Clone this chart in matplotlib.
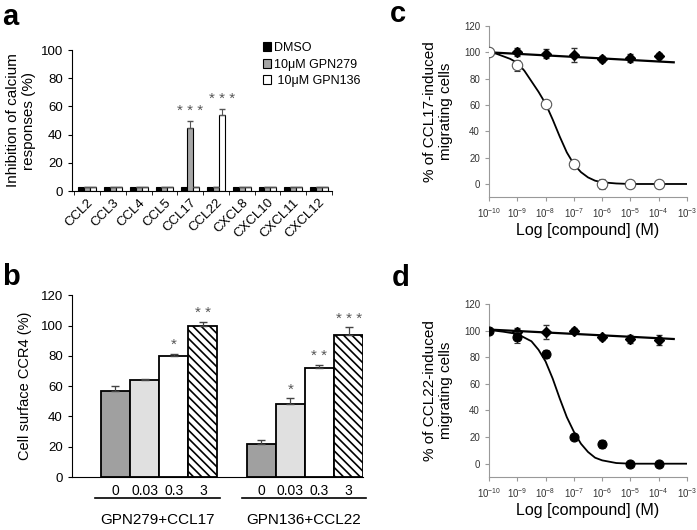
import matplotlib
matplotlib.use("Agg")
import matplotlib.pyplot as plt
from matplotlib.patches import Patch
import numpy as np

plt.rcParams['font.family'] = ['Liberation Sans', 'DejaVu Sans']
plt.rcParams['hatch.linewidth'] = 1.2

# ---- panel a data ----
chemokines = ["CCL2", "CCL3", "CCL4", "CCL5", "CCL17", "CCL22", "CXCL8", "CXCL10", "CXCL11", "CXCL12"]
a_dmso = [3, 3, 3, 3, 3, 3, 3, 3, 3, 3]
a_gpn279 = [3, 3, 3, 3, 45, 3, 3, 3, 3, 3]
a_gpn136 = [3, 3, 3, 3, 3, 54, 3, 3, 3, 3]
a_err279 = [0, 0, 0, 0, 5, 0, 0, 0, 0, 0]
a_err136 = [0, 0, 0, 0, 0, 4, 0, 0, 0, 0]
a_legend = ["DMSO", "10μM GPN279", " 10μM GPN136"]

# ---- panel b data ----
doses = ["0", "0.03", "0.3", "3"]
b_groups = ["GPN279+CCL17", "GPN136+CCL22"]
b_ccl17 = [57, 64, 80, 100]
b_ccl17_err = [3, 1, 1.5, 2.5]
b_ccl22 = [22, 48, 72, 94]
b_ccl22_err = [2.5, 4, 2, 5]
b_stars17 = ["", "", "*", "**"]
b_stars22 = ["", "*", "**", "***"]

# ---- panels c/d data (log10 concentration) ----
logc = [-10, -9, -8, -7, -6, -5, -4]
c_gpn279 = [np.nan, 100, 99, 98, 95, 95.5, 97.5]
c_gpn279_err = [0, 3, 3.7, 5, 2.5, 3, 2]
c_gpn136 = [100, 90, 61, 15, 0, 0, 0]
c_gpn136_err = [0, 4.5, 2, 0, 3.5, 0, 0]
c_flat_x = [-10, -3.47]
c_flat_y = [100, 92.4]
c_fit_x = [-10, -9.75, -9.5, -9.25, -9, -8.75, -8.5, -8.25, -8, -7.75, -7.5, -7.25,
           -7, -6.75, -6.5, -6.25, -6, -5.5, -5, -3]
c_fit_y = [100, 99, 97, 95, 92, 86, 78, 70, 61, 49, 36, 24,
           15, 9, 5, 2.5, 1.3, 0.4, 0, 0]

d_gpn279 = [np.nan, 99, 99, 100, 95, 94, 93]
d_gpn279_err = [0, 3, 5, 2, 2, 3, 4]
d_gpn136 = [100, 95, 82.5, 20, 15, 0, 0]
d_gpn136_err = [0, 4, 3, 0, 3, 0, 0]
d_flat_x = [-10, -3.47]
d_flat_y = [100.8, 93.7]
d_fit_x = [-10, -9.5, -9, -8.5, -8.25, -8, -7.75, -7.5, -7.25, -7, -6.75,
           -6.5, -6.25, -6, -5.5, -5, -3]
d_fit_y = [100.5, 99.2, 97.5, 92, 85.6, 76.8, 64, 49, 35, 24, 15,
           8.8, 4.5, 2.5, 0.5, 0, 0]

fig = plt.figure(figsize=(6.97, 5.30), dpi=100)

# ================= panel a =================
axa = fig.add_axes([0.103, 0.6396, 0.373, 0.266])
x = np.arange(len(chemokines))
w = 0.23
axa.bar(x - w, a_dmso, w, color="black", edgecolor="black", lw=0.8)
axa.bar(x, a_gpn279, w, yerr=[np.zeros(10), a_err279], color="#a6a6a6",
        edgecolor="black", lw=0.8, error_kw=dict(ecolor="#555", capsize=2.5, lw=0.8))
axa.bar(x + w, a_gpn136, w, yerr=[np.zeros(10), a_err136], color="white",
        edgecolor="black", lw=0.8, error_kw=dict(ecolor="#555", capsize=2.5, lw=0.8))
axa.text(x[4], a_gpn279[4] + a_err279[4] + 2, "* * *", ha="center", va="bottom",
         fontsize=11, color="#555")
axa.text(x[5] + w, a_gpn136[5] + a_err136[5] + 2, "* * *", ha="center", va="bottom",
         fontsize=11, color="#555")
axa.set_xlim(-0.6, 9.4)
axa.set_ylim(0, 100)
axa.set_yticks([0, 20, 40, 60, 80, 100])
axa.set_xticks(x)
axa.set_xticklabels(chemokines, rotation=45, ha="right", rotation_mode="anchor", fontsize=9.5)
axa.set_xticks(np.arange(-0.5, 9.6, 1), minor=True)
axa.tick_params(axis="x", which="major", length=0, pad=4)
axa.tick_params(axis="x", which="minor", length=3, direction="out")
axa.tick_params(axis="y", labelsize=9.5, length=3)
axa.spines[["top", "right"]].set_visible(False)
axa.set_ylabel("Inhibition of calcium\nresponses (%)", fontsize=11, labelpad=3)
handles = [Patch(facecolor=c, edgecolor="black", lw=0.8) for c in ["black", "#a6a6a6", "white"]]
axa.legend(handles, a_legend, loc="upper left", bbox_to_anchor=(0.71, 1.1), frameon=False,
           fontsize=9, handlelength=0.7, handleheight=0.7, handletextpad=0.2,
           labelspacing=0.35, borderpad=0)

# ================= panel b =================
axb = fig.add_axes([0.103, 0.1, 0.418, 0.343])
pos17 = np.array([1.5, 2.5, 3.5, 4.5])
pos22 = pos17 + 5
colors = ["#a0a0a0", "#e0e0e0", "white", "white"]
hatches = ["", "", "", "\\\\\\\\"]
for vals, errs, stars, pos in [(b_ccl17, b_ccl17_err, b_stars17, pos17),
                               (b_ccl22, b_ccl22_err, b_stars22, pos22)]:
    for i in range(4):
        axb.bar(pos[i], vals[i], 1.0, yerr=[[0], [errs[i]]], color=colors[i],
                edgecolor="black", lw=1.3, hatch=hatches[i],
                error_kw=dict(ecolor="#444", capsize=3, lw=0.9))
        if stars[i]:
            axb.text(pos[i], vals[i] + errs[i] + 1, " ".join(stars[i]), ha="center",
                     va="bottom", fontsize=11, color="#555")
axb.set_xlim(0, 10)
axb.set_ylim(0, 120)
axb.set_yticks(range(0, 121, 20))
axb.set_xticks(np.concatenate([pos17, pos22]))
axb.set_xticklabels(doses + doses, fontsize=10)
axb.tick_params(axis="x", length=0, pad=5)
axb.tick_params(axis="y", labelsize=9.5, length=3)
axb.spines[["top", "right"]].set_visible(False)
axb.set_ylabel("Cell surface CCR4 (%)", fontsize=10.5, labelpad=6)
for (x0, x1), name in zip([(0.79, 5.08), (5.84, 10.1)], b_groups):
    axb.plot([x0, x1], [-0.115, -0.115], color="black", lw=1.2,
             transform=axb.get_xaxis_transform(), clip_on=False)
    axb.text((x0 + x1) / 2, -0.235, name, ha="center", va="center", fontsize=11,
             transform=axb.get_xaxis_transform())


# ================= panels c / d =================
def dose_panel(rect, flat_x, flat_y, fit_x, fit_y, y279, e279, y136, e136,
               open_marker, ylabel):
    ax = fig.add_axes(rect)
    conc = 10.0 ** np.array(logc)
    ax.plot(10.0 ** np.array(flat_x), flat_y, color="black", lw=1.6, zorder=2)
    ax.plot(10.0 ** np.array(fit_x), fit_y, color="black", lw=1.3, zorder=2)
    ax.errorbar(conc, y279, yerr=e279, fmt="D", ms=5, color="black", ecolor="#333",
                elinewidth=0.8, capsize=2, zorder=3)
    ax.errorbar(conc, y136, yerr=e136, fmt="o", ms=7.5 if open_marker else 6.5,
                mfc="white" if open_marker else "black", mec="black" if not open_marker else "#555",
                mew=0.8, ecolor="#333", elinewidth=0.8, capsize=2, zorder=4)
    ax.set_xscale("log")
    ax.set_xlim(1e-10, 1e-3)
    ax.set_ylim(-10, 120)
    ax.set_yticks(range(0, 121, 20))
    ax.set_xticks(10.0 ** np.arange(-10, -2))
    ax.minorticks_off()
    ax.tick_params(labelsize=7, labelcolor="#333", color="#999", length=3)
    for s in ["top", "right"]:
        ax.spines[s].set_visible(False)
    for s in ["left", "bottom"]:
        ax.spines[s].set_color("#999")
    ax.set_xlabel("Log [compound] (M)", fontsize=11.5, labelpad=2)
    ax.set_ylabel(ylabel, fontsize=11, labelpad=8)
    return ax


dose_panel([0.7016, 0.628, 0.2841, 0.323], c_flat_x, c_flat_y, c_fit_x, c_fit_y,
           c_gpn279, c_gpn279_err, c_gpn136, c_gpn136_err, True,
           "% of CCL17-induced\nmigrating cells")
dose_panel([0.7016, 0.1, 0.2841, 0.3264], d_flat_x, d_flat_y, d_fit_x, d_fit_y,
           d_gpn279, d_gpn279_err, d_gpn136, d_gpn136_err, False,
           "% of CCL22-induced\nmigrating cells")

# panel letters
for lab, px, py in [("a", 2, 25), ("b", 2, 285), ("c", 390, 22), ("d", 392, 286)]:
    fig.text(px / 697, 1 - py / 530, lab, fontsize=21, fontweight="bold",
             ha="left", va="baseline")

fig.savefig("out.png", dpi=100)
